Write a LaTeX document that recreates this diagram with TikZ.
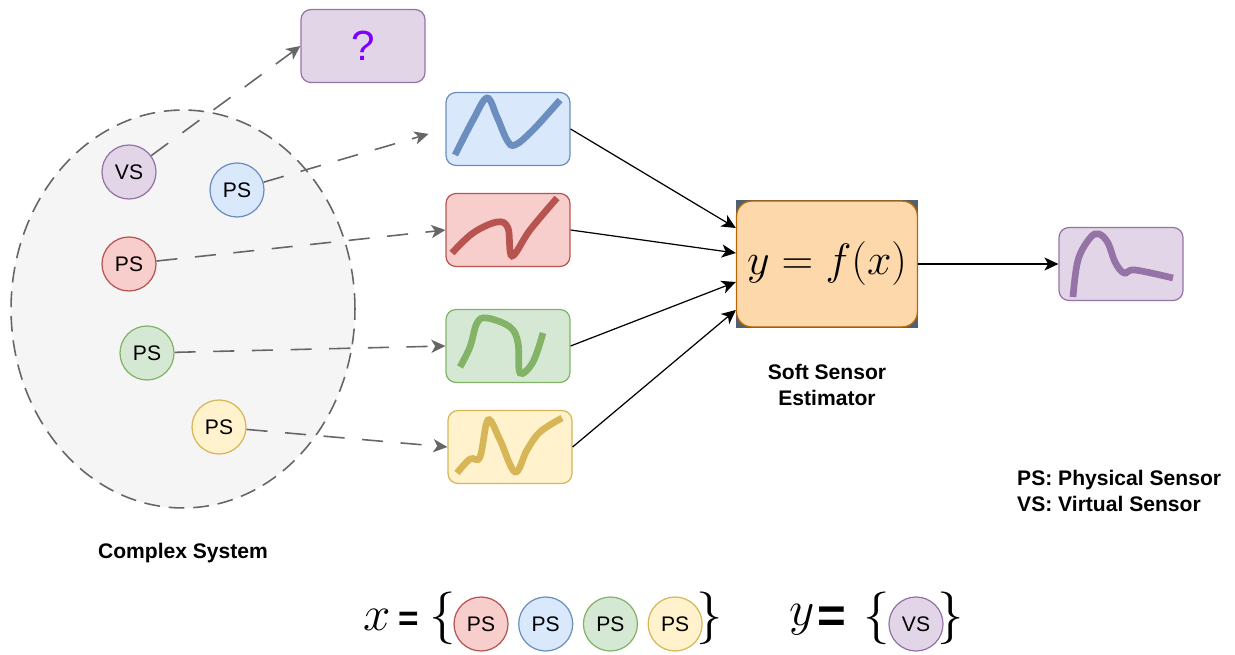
\RequirePackage{fix-cm}
\documentclass[tikz,border=0pt]{standalone}
\usepackage{fontspec}
\setmainfont{Liberation Sans}
\usepackage{amsmath}
\usetikzlibrary{arrows.meta,positioning,shapes.geometric}

\definecolor{purpfill}{HTML}{E1D5E7}
\definecolor{purpline}{HTML}{9673A6}
\definecolor{bluefill}{HTML}{DAE8FC}
\definecolor{blueline}{HTML}{6C8EBF}
\definecolor{redfill}{HTML}{F8CECC}
\definecolor{redline}{HTML}{B85450}
\definecolor{greenfill}{HTML}{D5E8D4}
\definecolor{greenline}{HTML}{82B366}
\definecolor{yellowfill}{HTML}{FFF2CC}
\definecolor{yellowline}{HTML}{D6B656}
\definecolor{orangefill}{HTML}{FDD8AA}
\definecolor{orangeline}{HTML}{B46504}
\definecolor{slate}{HTML}{4F6072}
\definecolor{sysfill}{HTML}{F5F5F5}
\definecolor{dashgray}{HTML}{666666}
\definecolor{qviolet}{HTML}{7F00FF}

\begin{document}
\begin{tikzpicture}[
    x=0.02cm, y=-0.02cm,
    system/.style={ellipse, draw=dashgray, fill=sysfill, line width=0.9pt, dash pattern=on 9pt off 5pt, minimum width=6.88cm, minimum height=7.96cm},
    sensor/.style={circle, draw, line width=0.7pt, minimum size=1.08cm, inner sep=0pt, font=\fontsize{12}{13}\selectfont},
    vsS/.style={sensor, fill=purpfill, draw=purpline},
    psB/.style={sensor, fill=bluefill, draw=blueline},
    psR/.style={sensor, fill=redfill, draw=redline},
    psG/.style={sensor, fill=greenfill, draw=greenline},
    psY/.style={sensor, fill=yellowfill, draw=yellowline},
    sig/.style={draw, rounded corners=0.2cm, line width=0.7pt, minimum width=2.48cm, minimum height=1.46cm, inner sep=0pt},
    curve/.style={line width=3.8pt},
    lbl/.style={font=\bfseries\fontsize{12}{15}\selectfont, align=center},
    dasharr/.style={draw=dashgray, line width=0.9pt, dash pattern=on 12pt off 10pt, -{Stealth[length=8pt, width=7.5pt, inset=2.2pt]}},
    arr/.style={draw=black, line width=0.7pt, -{Stealth[length=8pt, width=7.5pt, inset=2.2pt]}},
    brace/.style={inner sep=0pt, font=\fontsize{30}{32}\selectfont},
    eqbig/.style={inner sep=0pt, font=\bfseries\fontsize{20}{22}\selectfont}
  ]
    \useasboundingbox (0,0) rectangle (1235,655);

    % complex system with its sensors
    \node[system] (sys) at (183,309) {};
    \node[lbl] (syslbl) at (183,553) {Complex System};
    \node[vsS] (vs) at (129,172) {VS};
    \node[psB] (psb) at (237,190) {PS};
    \node[psR] (psr) at (129,264) {PS};
    \node[psG] (psg) at (147,353) {PS};
    \node[psY] (psy) at (219,427) {PS};

    % measured signals
    \node[sig, fill=purpfill, draw=purpline, text=qviolet, font=\fontsize{24}{26}\selectfont] (qbox) at (363,46) {?};
    \node[sig, fill=bluefill, draw=blueline] (sigb) at (508,129) {};
    \node[sig, fill=redfill, draw=redline] (sigr) at (508,230) {};
    \node[sig, fill=greenfill, draw=greenline] (sigg) at (508,346) {};
    \node[sig, fill=yellowfill, draw=yellowline] (sigy) at (510,447) {};
    \draw[curve, blueline] plot[smooth, tension=0.6] coordinates {(455,155) (473,120) (487,98) (497,117) (507,140) (515,145) (533,130) (560,100)};
    \draw[curve, redline] plot[smooth, tension=0.6] coordinates {(452,253) (473,233) (497,222) (508,228) (512,256) (530,230) (557,198)};
    \draw[curve, greenline] plot[smooth, tension=0.6] coordinates {(460,367) (470,347) (477,323) (487,318) (510,327) (518,343) (520,373) (533,362) (543,333)};
    \draw[curve, yellowline] plot[smooth, tension=0.6] coordinates {(457,473) (470,459) (480,457) (488,420) (500,440) (515,472) (527,450) (540,432) (562,418)};

    % estimator
    \node[minimum width=3.66cm, minimum height=2.56cm, fill=slate] (estbg) at (827,264) {};
    \node[draw=orangeline, fill=orangefill, rounded corners=0.3cm, line width=0.8pt, minimum width=3.62cm, minimum height=2.52cm, font=\fontsize{25}{28}\selectfont] (est) at (827,264) {$y = f(x)$};
    \node[lbl, below=0.6cm of est] (estlbl) {Soft Sensor\\Estimator};

    % estimated signal
    \node[sig, fill=purpfill, draw=purpline] (out) at (1121,264) {};
    \draw[curve, purpline] plot[smooth, tension=0.6] coordinates {(1073,297) (1078,260) (1090,238) (1099,234) (1108,243) (1115,262) (1124,273) (1135,270) (1173,278)};

    % connections
    \draw[dasharr] (vs) -- (qbox.west);
    \draw[dasharr, shorten >=10pt] (psb) -- (sigb.west);
    \draw[dasharr] (psr) -- (sigr.west);
    \draw[dasharr] (psg) -- (sigg.west);
    \draw[dasharr] (psy) -- (sigy.west);
    \draw[arr] (sigb.east) -- (est.west |- 0,228);
    \draw[arr] (sigr.east) -- (est.west |- 0,253);
    \draw[arr] (sigg.east) -- (est.west |- 0,282);
    \draw[arr] (sigy.east) -- (est.west |- 0,310);
    \draw[arr] (est) -- (out);

    % legend
    \node[lbl, align=left, anchor=west] (legend) at (1011,491) {PS: Physical Sensor\\VS: Virtual Sensor};

    % input / output sets
    \node[inner sep=0pt, font=\fontsize{28}{30}\selectfont] (xsym) at (377,620) {$x$};
    \node[eqbig] (xeq) at (409,621) {=};
    \node[brace] (xlb) at (443,618) {$\{$};
    \node[psR] (x1) at (481,624) {PS};
    \node[psB, right=0.19cm of x1] (x2) {PS};
    \node[psG, right=0.19cm of x2] (x3) {PS};
    \node[psY, right=0.19cm of x3] (x4) {PS};
    \node[brace] (xrb) at (710,618) {$\}$};
    \node[inner sep=0pt, font=\fontsize{28}{30}\selectfont] (ysym) at (802,620) {$y$};
    \node[eqbig, font=\bfseries\fontsize{28}{30}\selectfont] (yeq) at (832,620) {=};
    \node[brace] (ylb) at (877,618) {$\{$};
    \node[vsS] (y1) at (916,624) {VS};
    \node[brace] (yrb) at (951,618) {$\}$};
\end{tikzpicture}
\end{document}
